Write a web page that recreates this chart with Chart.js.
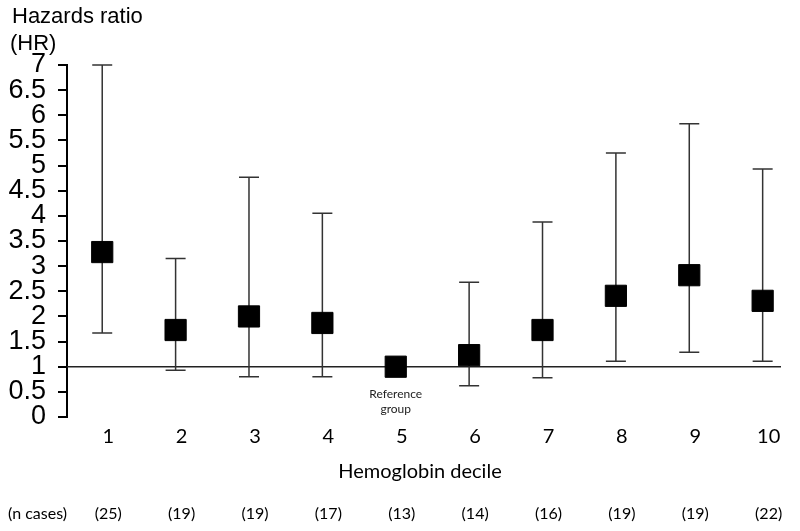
<!DOCTYPE html>
<html>
<head>
<meta charset="utf-8">
<script src="https://cdn.jsdelivr.net/npm/chart.js@4"></script>
<style>
  html, body { margin: 0; padding: 0; background: #fff; }
  #wrap { width: 800px; height: 531px; }
</style>
</head>
<body>
<div id="wrap"><canvas id="hrChart" width="800" height="531"></canvas></div>
<script>
// Hemoglobin deciles and their hazard ratios (with 95% CI)
const deciles = [1, 2, 3, 4, 5, 6, 7, 8, 9, 10];
const hazardRatio = [3.28, 1.73, 2.0, 1.87, 1.0, 1.23, 1.73, 2.41, 2.82, 2.31];
const ciLower = [1.67, 0.93, 0.8, 0.8, null, 0.62, 0.78, 1.11, 1.29, 1.11];
const ciUpper = [7.0, 3.15, 4.77, 4.05, null, 2.68, 3.88, 5.25, 5.83, 4.93];
const nCases = ['(25)', '(19)', '(19)', '(17)', '(13)', '(14)', '(16)', '(19)', '(19)', '(22)'];
const referenceDecile = 5;

const humanist = "Lato, 'Noto Sans', sans-serif";
const sans = "Arial, 'Liberation Sans', sans-serif";

// Draws the reference line, the CI whiskers and the extra texts
const extrasPlugin = {
    id: 'extras',
    beforeDatasetsDraw(chart) {
        const ctx = chart.ctx;
        const x = chart.scales.x;
        const y = chart.scales.y;
        const area = chart.chartArea;
        ctx.save();

        // HR = 1 line
        ctx.strokeStyle = '#222';
        ctx.lineWidth = 1.5;
        ctx.beginPath();
        ctx.moveTo(area.left, y.getPixelForValue(1));
        ctx.lineTo(area.right, y.getPixelForValue(1));
        ctx.stroke();

        // confidence interval whiskers
        ctx.strokeStyle = '#333';
        ctx.lineWidth = 1.5;
        deciles.forEach((d, i) => {
            if (ciLower[i] == null) return;
            const px = x.getPixelForValue(d);
            const top = y.getPixelForValue(ciUpper[i]);
            const bot = y.getPixelForValue(ciLower[i]);
            ctx.beginPath();
            ctx.moveTo(px, top);
            ctx.lineTo(px, bot);
            ctx.moveTo(px - 10, top);
            ctx.lineTo(px + 10, top);
            ctx.moveTo(px - 10, bot);
            ctx.lineTo(px + 10, bot);
            ctx.stroke();
        });
        ctx.restore();
    },
    afterDraw(chart) {
        const ctx = chart.ctx;
        const x = chart.scales.x;
        ctx.save();
        ctx.fillStyle = '#000';

        // y axis title
        ctx.font = '22px ' + sans;
        ctx.textAlign = 'left';
        ctx.textBaseline = 'alphabetic';
        ctx.fillText('Hazards ratio', 12, 23);
        ctx.fillText('(HR)', 10, 50);

        // reference group note
        ctx.fillStyle = '#222';
        ctx.font = '12px ' + humanist;
        ctx.textAlign = 'center';
        ctx.textBaseline = 'middle';
        const rx = x.getPixelForValue(referenceDecile);
        ctx.fillText('Reference', rx, 394);
        ctx.fillText('group', rx, 409);

        // x axis title
        ctx.fillStyle = '#000';
        ctx.font = '20px ' + humanist;
        ctx.fillText('Hemoglobin decile', 420, 472);

        // number of cases row
        ctx.font = '16px ' + humanist;
        ctx.textAlign = 'left';
        ctx.fillText('(n cases)', 8, 514);
        ctx.textAlign = 'center';
        deciles.forEach((d, i) => {
            ctx.fillText(nCases[i], x.getPixelForValue(d) + 6, 514);
        });
        ctx.restore();
    }
};

const chart = new Chart(document.getElementById('hrChart'), {
    type: 'scatter',
    data: {
        datasets: [{
            data: deciles.map((d, i) => ({ x: d, y: hazardRatio[i] })),
            backgroundColor: '#000',
            borderColor: '#000',
            pointStyle: 'rect',
            pointRadius: 15,
            pointHoverRadius: 15
        }]
    },
    options: {
        responsive: false,
        animation: false,
        layout: { padding: { left: 5, right: 19, top: 65, bottom: 76 } },
        plugins: {
            legend: { display: false },
            tooltip: { enabled: false }
        },
        scales: {
            x: {
                type: 'linear',
                min: 0.52,
                max: 10.25,
                afterBuildTicks: s => { s.ticks = deciles.map(v => ({ value: v })); },
                afterFit: s => { s.height = 38; },
                grid: { display: false, drawTicks: false },
                border: { display: false },
                ticks: {
                    color: '#000',
                    padding: 8,
                    labelOffset: 6,
                    font: { family: humanist, size: 20 },
                    maxRotation: 0,
                    autoSkip: false,
                    callback: v => String(v)
                }
            },
            y: {
                min: 0,
                max: 7,
                afterFit: s => { s.width = 62; },
                grid: {
                    drawOnChartArea: false,
                    color: '#000',
                    lineWidth: 2,
                    tickLength: 9
                },
                border: { color: '#000', width: 2 },
                ticks: {
                    stepSize: 0.5,
                    autoSkip: false,
                    color: '#000',
                    padding: 12,
                    font: { family: sans, size: 27 },
                    callback: v => String(v)
                }
            }
        }
    },
    plugins: [extrasPlugin]
});
</script>
</body>
</html>
